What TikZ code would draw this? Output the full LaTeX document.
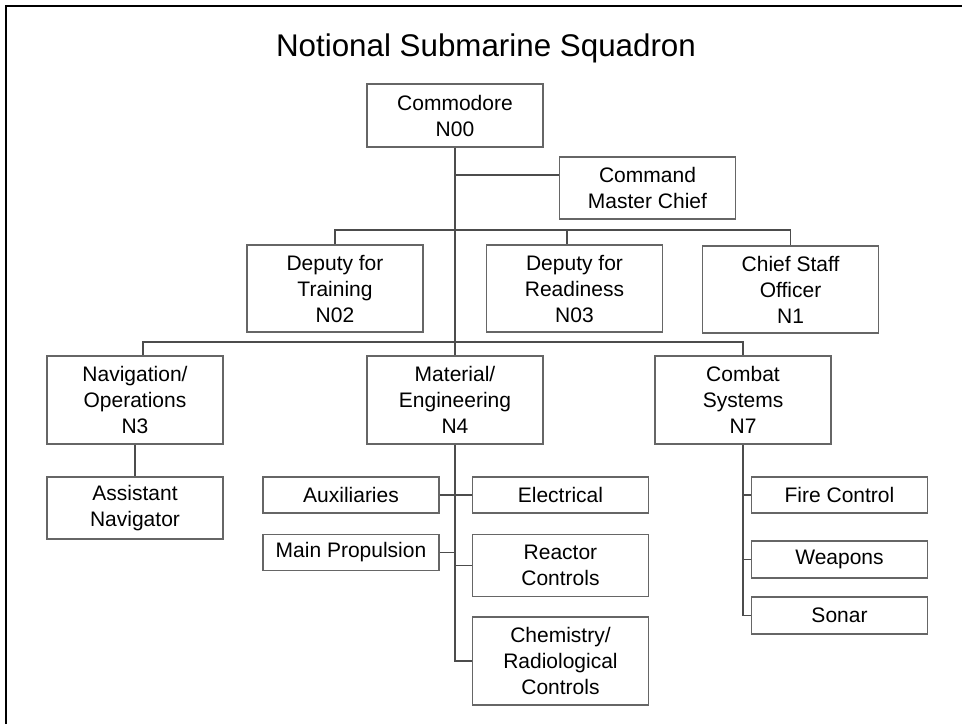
\documentclass[tikz,border=0pt]{standalone}
\usepackage{fontspec}
\setmainfont{Liberation Sans}
\usetikzlibrary{positioning}

\begin{document}
\begin{tikzpicture}[x=0.75pt,y=-0.75pt,node distance=15pt]
  \tikzstyle{unit}=[draw=black!60,line width=1.1pt,align=center,
                    minimum width=132pt,inner sep=0pt,
                    font=\fontsize{15.75}{19.5}\selectfont]
  \tikzstyle{link}=[draw=black!70,line width=0.9pt]

  \useasboundingbox (0,0) rectangle (962,724);
  \draw[line width=2pt] (6,724) -- (6,6) -- (962,6);

  \node[anchor=base,font=\fontsize{23.5}{28}\selectfont] (title) at (486,57)
        {Notional Submarine Squadron};

  \node[unit,minimum height=47.25pt] (N00) at (455,115.5) {Commodore\\N00};
  \node[unit,minimum height=46.5pt]  (CMC) at (647.5,188) {Command\\Master Chief};

  \node[unit,minimum height=65.25pt] (N02) at (335,288.5) {Deputy for\\Training\\N02};
  \node[unit,minimum height=65.25pt] (N03) at (574.5,288.5) {Deputy for\\Readiness\\N03};
  \node[unit,minimum height=65.25pt] (N1)  at (790.5,289.5) {Chief Staff\\Officer\\N1};

  \node[unit,minimum height=66pt] (N3) at (135,400) {Navigation/\\Operations\\N3};
  \node[unit,minimum height=66pt] (N4) at (455,400) {Material/\\Engineering\\N4};
  \node[unit,minimum height=66pt] (N7) at (743,400) {Combat\\Systems\\N7};

  \node[unit,minimum height=46.5pt] (AN) at (135,508) {Assistant\\Navigator};

  \node[unit,minimum height=27pt]   (Aux)  at (351,495)       {Auxiliaries};
  \node[unit,minimum height=27pt]   (Elec) [right=24pt of Aux] {Electrical};
  \node[unit,minimum height=27pt]   (MP)   [below=of Aux]      {Main Propulsion};
  \node[unit,minimum height=46.5pt] (RC)   [below=of Elec]     {Reactor\\Controls};
  \node[unit,minimum height=66pt]   (Chem) [below=14.25pt of RC] {Chemistry/\\Radiological\\Controls};

  \node[unit,minimum height=27pt]    (FC)    at (839.5,495)   {Fire Control};
  \node[unit,minimum height=27.75pt] (Wpn)   at (839.5,559.5) {Weapons};
  \node[unit,minimum height=27.75pt] (Sonar) at (839.5,615.5) {Sonar};

  % junctions
  \coordinate (jcmc) at (455,175);
  \coordinate (bus1) at (455,230);
  \coordinate (j03)  at (567,230);
  \coordinate (j3)   at (143,342);

  \draw[link] (N00.south) -- (N4.north);
  \draw[link] (jcmc) -- (jcmc -| CMC.west);
  \draw[link] (N02.north) -- (N02.north |- bus1) -- (N1.north |- bus1) -- (N1.north);
  \draw[link] (j03) -- (j03 |- N03.north);
  \draw[link] (j3 |- N3.north) -- (j3) -- (N7.north |- j3) -- (N7.north);
  \draw[link] (N3.south) -- (AN.north);

  \draw[link] (N4.south) -- (N4.south |- Chem.west) -- (Chem.west);
  \draw[link] (Aux.east) -- (Elec.west);
  \draw[link] (MP.east) -- (MP.east -| N4.south);
  \draw[link] (RC.west) -- (RC.west -| N4.south);

  \draw[link] (N7.south) -- (N7.south |- Sonar.west) -- (Sonar.west);
  \draw[link] (FC.west) -- (FC.west -| N7.south);
  \draw[link] (Wpn.west) -- (Wpn.west -| N7.south);
\end{tikzpicture}
\end{document}
